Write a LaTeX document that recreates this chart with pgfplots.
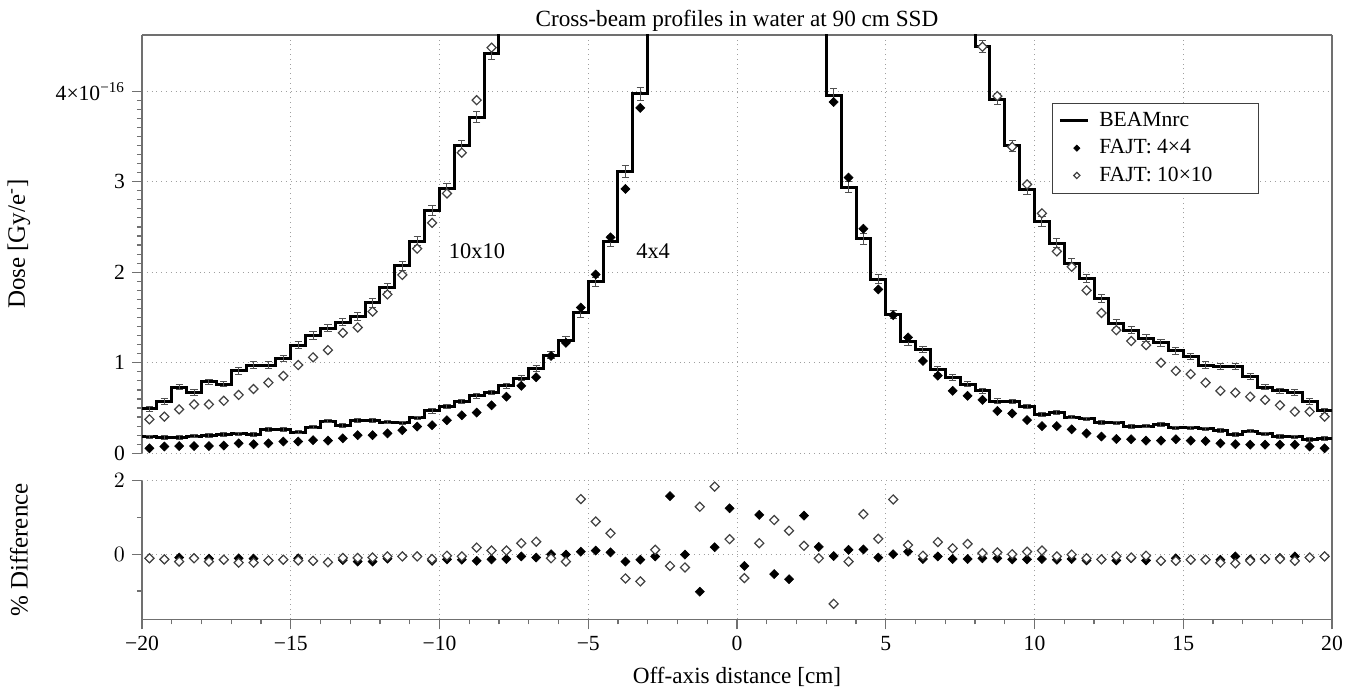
\documentclass[border=0pt]{standalone}
\usepackage{fontspec}
\setmainfont{Liberation Serif}
\usepackage{pgfplots}
\usepackage{pgfplotstable}
\pgfplotsset{compat=1.18}
\definecolor{axgray}{HTML}{707070}
\definecolor{errgray}{HTML}{505050}
\definecolor{opengray}{HTML}{404040}

% BEAMnrc 4x4: bin left edge, dose, uncertainty (last row closes the step)
\pgfplotstableread{
x val err
-20 0.18 0.02
-19.5 0.175 0.02
-19 0.175 0.02
-18.5 0.19 0.02
-18 0.195 0.02
-17.5 0.21 0.02
-17 0.215 0.02
-16.5 0.21 0.02
-16 0.26 0.02
-15.5 0.26 0.02
-15 0.235 0.02
-14.5 0.29 0.02
-14 0.355 0.02
-13.5 0.31 0.02
-13 0.365 0.02
-12.5 0.365 0.02
-12 0.345 0.02
-11.5 0.335 0.02
-11 0.39 0.02
-10.5 0.47 0.025
-10 0.515 0.025
-9.5 0.57 0.025
-9 0.635 0.025
-8.5 0.67 0.025
-8 0.745 0.03
-7.5 0.83 0.03
-7 0.94 0.035
-6.5 1.085 0.035
-6 1.25 0.04
-5.5 1.55 0.045
-5 1.895 0.05
-4.5 2.34 0.06
-4 3.115 0.065
-3.5 3.97 0.07
-3 6.0 0.1
-2.5 7.5 0.1
-2 8.2 0.1
-1.5 8.5 0.1
-1 8.6 0.1
-0.5 8.7 0.1
0 8.7 0.1
0.5 8.6 0.1
1 8.5 0.1
1.5 8.2 0.1
2 7.5 0.1
2.5 6.0 0.1
3 3.955 0.07
3.5 2.94 0.065
4 2.37 0.06
4.5 1.92 0.05
5 1.535 0.045
5.5 1.23 0.04
6 1.15 0.035
6.5 0.92 0.035
7 0.835 0.03
7.5 0.765 0.03
8 0.69 0.025
8.5 0.577 0.025
9 0.57 0.025
9.5 0.515 0.025
10 0.43 0.025
10.5 0.45 0.025
11 0.40 0.02
11.5 0.38 0.02
12 0.34 0.02
12.5 0.335 0.02
13 0.295 0.02
13.5 0.30 0.02
14 0.32 0.02
14.5 0.28 0.02
15 0.28 0.02
15.5 0.27 0.02
16 0.255 0.02
16.5 0.21 0.02
17 0.245 0.02
17.5 0.215 0.02
18 0.185 0.02
18.5 0.18 0.02
19 0.155 0.02
19.5 0.165 0.02
20 0.165 0.02
}\beamfour

% BEAMnrc 10x10
\pgfplotstableread{
x val err
-20 0.49 0.025
-19.5 0.57 0.03
-19 0.73 0.03
-18.5 0.67 0.03
-18 0.79 0.03
-17.5 0.765 0.03
-17 0.91 0.035
-16.5 0.975 0.035
-16 0.975 0.035
-15.5 1.05 0.035
-15 1.195 0.04
-14.5 1.30 0.04
-14 1.38 0.04
-13.5 1.45 0.04
-13 1.51 0.045
-12.5 1.66 0.045
-12 1.83 0.045
-11.5 2.07 0.05
-11 2.34 0.05
-10.5 2.68 0.055
-10 2.92 0.055
-9.5 3.40 0.06
-9 3.71 0.06
-8.5 4.415 0.065
-8 5.5 0.1
-7.5 6.0 0.1
-7 6.3 0.1
-6.5 6.5 0.1
-6 6.6 0.1
-5.5 6.7 0.1
-5 6.7 0.1
-4.5 6.8 0.1
-4 6.8 0.1
-3.5 6.8 0.1
-3 6.8 0.1
-2.5 6.8 0.1
-2 6.8 0.1
-1.5 6.8 0.1
-1 6.8 0.1
-0.5 6.8 0.1
0 6.8 0.1
0.5 6.8 0.1
1 6.8 0.1
1.5 6.8 0.1
2 6.8 0.1
2.5 6.8 0.1
3 6.8 0.1
3.5 6.8 0.1
4 6.8 0.1
4.5 6.7 0.1
5 6.7 0.1
5.5 6.6 0.1
6 6.5 0.1
6.5 6.3 0.1
7 6.0 0.1
7.5 5.5 0.1
8 4.49 0.065
8.5 3.91 0.06
9 3.395 0.06
9.5 2.917 0.055
10 2.56 0.055
10.5 2.32 0.05
11 2.10 0.05
11.5 1.93 0.045
12 1.71 0.045
12.5 1.435 0.045
13 1.36 0.04
13.5 1.27 0.04
14 1.22 0.04
14.5 1.13 0.04
15 1.07 0.035
15.5 0.975 0.035
16 0.955 0.035
16.5 0.955 0.035
17 0.845 0.035
17.5 0.73 0.03
18 0.69 0.03
18.5 0.67 0.03
19 0.57 0.03
19.5 0.47 0.025
20 0.47 0.025
}\beamten

% FAJT 4x4 (visible points)
\pgfplotstableread{
x y
-19.75 0.055
-19.25 0.075
-18.75 0.08
-18.25 0.08
-17.75 0.08
-17.25 0.085
-16.75 0.11
-16.25 0.10
-15.75 0.11
-15.25 0.13
-14.75 0.13
-14.25 0.145
-13.75 0.14
-13.25 0.165
-12.75 0.20
-12.25 0.20
-11.75 0.22
-11.25 0.255
-10.75 0.295
-10.25 0.31
-9.75 0.365
-9.25 0.42
-8.75 0.45
-8.25 0.53
-7.75 0.625
-7.25 0.745
-6.75 0.84
-6.25 1.075
-5.75 1.22
-5.25 1.61
-4.75 1.975
-4.25 2.385
-3.75 2.92
-3.25 3.815
3.25 3.88
3.75 3.045
4.25 2.48
4.75 1.81
5.25 1.525
5.75 1.28
6.25 1.02
6.75 0.857
7.25 0.69
7.75 0.635
8.25 0.59
8.75 0.467
9.25 0.44
9.75 0.367
10.25 0.30
10.75 0.30
11.25 0.265
11.75 0.22
12.25 0.185
12.75 0.158
13.25 0.155
13.75 0.14
14.25 0.14
14.75 0.155
15.25 0.14
15.75 0.135
16.25 0.11
16.75 0.10
17.25 0.095
17.75 0.095
18.25 0.095
18.75 0.095
19.25 0.075
19.75 0.055
}\fajtfour

% FAJT 10x10 (visible points)
\pgfplotstableread{
x y
-19.75 0.375
-19.25 0.405
-18.75 0.485
-18.25 0.54
-17.75 0.54
-17.25 0.58
-16.75 0.645
-16.25 0.71
-15.75 0.78
-15.25 0.855
-14.75 0.975
-14.25 1.06
-13.75 1.14
-13.25 1.33
-12.75 1.39
-12.25 1.565
-11.75 1.755
-11.25 1.97
-10.75 2.26
-10.25 2.545
-9.75 2.87
-9.25 3.32
-8.75 3.90
-8.25 4.48
8.25 4.49
8.75 3.945
9.25 3.385
9.75 2.97
10.25 2.65
10.75 2.23
11.25 2.06
11.75 1.80
12.25 1.55
12.75 1.36
13.25 1.24
13.75 1.195
14.25 1.00
14.75 0.91
15.25 0.875
15.75 0.78
16.25 0.69
16.75 0.67
17.25 0.625
17.75 0.59
18.25 0.53
18.75 0.46
19.25 0.46
19.75 0.405
}\fajtten

% percentage differences
\pgfplotstableread{
x d4 d10
-19.75 -0.11 -0.11
-19.25 -0.14 -0.14
-18.75 -0.09 -0.20
-18.25 -0.11 -0.11
-17.75 -0.12 -0.20
-17.25 -0.15 -0.15
-16.75 -0.11 -0.23
-16.25 -0.12 -0.23
-15.75 -0.17 -0.17
-15.25 -0.15 -0.15
-14.75 -0.11 -0.17
-14.25 -0.18 -0.18
-13.75 -0.22 -0.22
-13.25 -0.16 -0.10
-12.75 -0.20 -0.10
-12.25 -0.20 -0.09
-11.75 -0.12 -0.06
-11.25 -0.06 -0.06
-10.75 -0.06 -0.06
-10.25 -0.18 -0.13
-9.75 -0.14 -0.04
-9.25 -0.15 -0.06
-8.75 -0.18 0.18
-8.25 -0.14 0.10
-7.75 -0.13 0.10
-7.25 -0.06 0.30
-6.75 -0.09 0.34
-6.25 0.00 -0.11
-5.75 -0.01 -0.20
-5.25 0.07 1.50
-4.75 0.10 0.89
-4.25 0.05 0.57
-3.75 -0.20 -0.66
-3.25 -0.15 -0.74
-2.75 -0.06 0.12
-2.25 1.58 -0.32
-1.75 -0.01 -0.36
-1.25 -1.02 1.29
-0.75 0.19 1.84
-0.25 1.25 0.41
0.25 -0.32 -0.65
0.75 1.07 0.30
1.25 -0.54 0.93
1.75 -0.68 0.64
2.25 1.05 0.23
2.75 0.20 -0.11
3.25 -0.05 -1.35
3.75 0.12 -0.20
4.25 0.13 1.09
4.75 -0.09 0.42
5.25 0.00 1.49
5.75 0.07 0.25
6.25 -0.13 -0.04
6.75 -0.06 0.33
7.25 -0.13 0.16
7.75 -0.13 0.28
8.25 -0.11 0.03
8.75 -0.11 0.05
9.25 -0.14 0.00
9.75 -0.14 0.07
10.25 -0.13 0.10
10.75 -0.15 -0.06
11.25 -0.13 -0.01
11.75 -0.17 -0.11
12.25 -0.14 -0.14
12.75 -0.17 -0.06
13.25 -0.11 -0.09
13.75 -0.17 -0.04
14.25 -0.18 -0.18
14.75 -0.11 -0.18
15.25 -0.15 -0.15
15.75 -0.15 -0.15
16.25 -0.15 -0.23
16.75 -0.06 -0.25
17.25 -0.14 -0.18
17.75 -0.13 -0.13
18.25 -0.10 -0.13
18.75 -0.06 -0.18
19.25 -0.09 -0.09
19.75 -0.06 -0.06
}\diffs

\pgfplotsset{
  panel/.style={
    width=595pt, scale only axis,
    xmin=-20, xmax=20,
    xtick={-20,-15,...,20},
    grid=major,
    major grid style={dotted, gray!75, line width=0.5pt},
    axis line style={axgray, line width=0.6pt},
    tick style={axgray, line width=0.6pt},
    tick align=outside,
    major tick length=5pt, minor tick length=2.6pt,
    ticklabel style={font=\fontsize{10.8}{13}\selectfont, black},
    every axis y label/.style={at={(axis description cs:-0.1034,0.5)}, rotate=90, anchor=center,
      font=\fontsize{12.5}{15}\selectfont},
    every axis x label/.style={at={(axis description cs:0.5,0)}, anchor=base, yshift=-32.3pt,
      font=\fontsize{11.6}{14}\selectfont},
    every axis title/.style={at={(axis description cs:0.5,1)}, anchor=base, yshift=4pt,
      font=\fontsize{11.6}{14}\selectfont},
  },
  filled/.style={only marks, mark=square*, mark size=1.6pt,
    mark options={rotate=45, fill=black, draw=black, line width=0.3pt}},
  open/.style={only marks, mark=square*, mark size=1.6pt,
    mark options={rotate=45, fill=white, draw=opengray, line width=0.6pt}},
  ebars/.style={draw=none, mark=none, forget plot,
    error bars/.cd, y dir=both, y explicit,
    error bar style={errgray, line width=0.5pt},
    error mark options={errgray, rotate=90, mark size=1.8pt, line width=0.5pt}},
}

\begin{document}
\begin{tikzpicture}
\useasboundingbox (-71pt,-35.35pt) rectangle (606.5pt,309.65pt);

\begin{axis}[panel, at={(0pt,83pt)}, height=209.15pt,
  ymin=0, ymax=4.62,
  axis x line*=top, axis y line*=box,
  xticklabels={}, xmajorticks=false,
  ytick={0,1,2,3,4}, yticklabels={0,1,2,3,4×10\textsuperscript{−16}},
  minor y tick num=9, ytick pos=left,
  ylabel={Dose [Gy/e\textsuperscript{-}]},
  title={Cross-beam profiles in water at 90 cm SSD},
  legend style={at={(axis description cs:0.7645,0.838)}, anchor=north west,
    draw=black!75, line width=0.5pt, font=\fontsize{10.8}{13}\selectfont,
    inner xsep=3pt, inner ysep=2.5pt, row sep=1pt,
    /tikz/every odd column/.append style={column sep=3pt}},
  legend cell align=left,
]
\addplot[const plot, black, line width=1.5pt,
  legend image code/.code={\draw[black, line width=1.5pt] (0pt,0pt) -- (14pt,0pt);}]
  table[x=x, y=val]{\beamten};
\addlegendentry{BEAMnrc}
\addplot[const plot, black, line width=1.5pt, forget plot] table[x=x, y=val]{\beamfour};
\addplot[skip coords between index={80}{81}, ebars] table[x expr=\thisrow{x}+0.25, y=val, y error=err]{\beamten};
\addplot[skip coords between index={80}{81}, ebars] table[x expr=\thisrow{x}+0.25, y=val, y error=err]{\beamfour};
\addplot[filled, legend image post style={mark size=1.1pt}] table[x=x, y=y]{\fajtfour};
\addlegendentry{FAJT: 4×4}
\addplot[open, legend image post style={mark size=1.1pt}] table[x=x, y=y]{\fajtten};
\addlegendentry{FAJT: 10×10\rule{18pt}{0pt}}
\node[font=\fontsize{11.2}{13}\selectfont] at (axis cs:-8.74,2.23) {10x10};
\node[font=\fontsize{11.2}{13}\selectfont] at (axis cs:-2.82,2.23) {4x4};
\end{axis}

\begin{axis}[panel, at={(0pt,0pt)}, height=69.3pt,
  ymin=-1.77, ymax=2,
  axis x line*=bottom, axis y line*=box,
  minor x tick num=4,
  xticklabels={−20,−15,−10,−5,0,5,10,15,20},
  ytick={0,2}, minor ytick={-1,1}, ytick pos=left,
  ylabel={\% Difference},
  xlabel={Off-axis distance [cm]},
]
\addplot[filled] table[x=x, y=d4]{\diffs};
\addplot[open] table[x=x, y=d10]{\diffs};
\end{axis}
\draw[axgray, line width=0.6pt] (595pt,69.3pt) -- (595pt,83pt);
\end{tikzpicture}
\end{document}
